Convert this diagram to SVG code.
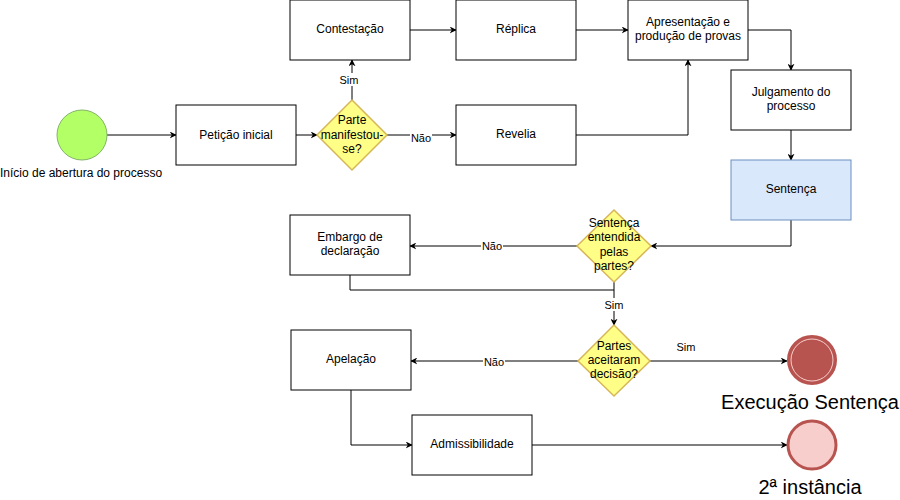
<svg xmlns="http://www.w3.org/2000/svg" width="900" height="500" viewBox="0 0 900 500">
<defs>
<marker id="arr" viewBox="0 0 10 10" refX="9" refY="5" markerWidth="7" markerHeight="7" orient="auto" markerUnits="userSpaceOnUse">
<path d="M0,0 L10,5 L0,10 L3,5 Z" fill="#000"/>
</marker>
<style>
text{font-family:"Liberation Sans",Arial,sans-serif;font-size:12px;fill:#000;text-anchor:middle}
.box{fill:#fff;stroke:#000;stroke-width:1}
.dia{fill:#ffff88;stroke:#d6b656;stroke-width:1.5}
.e{fill:none;stroke:#000;stroke-width:1;marker-end:url(#arr)}
.ln{fill:none;stroke:#000;stroke-width:1}
.lbl{font-size:11px}
.bg{fill:#fff}
.big{font-size:20px}
</style>
</defs>
<rect width="900" height="500" fill="#fff"/>
<g id="connectors">
<path class="e" d="M107,135 L176,135"/>
<path class="e" d="M296,135 L317,135"/>
<path class="e" d="M352,100 L352,60"/>
<path class="e" d="M387,135 L456,135"/>
<path class="e" d="M410,30 L456,30"/>
<path class="e" d="M576,30 L628,30"/>
<path class="e" d="M576,135 L688,135 L688,60"/>
<path class="e" d="M748,30 L791,30 L791,70"/>
<path class="e" d="M791,130 L791,160"/>
<path class="e" d="M791,220 L791,246 L651,246"/>
<path class="e" d="M577,246 L410,246"/>
<path class="ln" d="M350,275 L350,290 L614,290"/>
<path class="e" d="M614,280 L614,325"/>
<path class="e" d="M578,361 L411,361"/>
<path class="e" d="M650,361 L787,361"/>
<path class="e" d="M351,390 L351,445 L412,445"/>
<path class="e" d="M532,445 L787,445"/>
<rect class="bg" x="340" y="73" width="19" height="13"/>
<text class="lbl" x="349" y="84">Sim</text>
<rect class="bg" x="410" y="131" width="22" height="13"/>
<text class="lbl" x="421" y="142">Não</text>
<rect class="bg" x="481" y="239" width="22" height="13"/>
<text class="lbl" x="492" y="250">Não</text>
<rect class="bg" x="604" y="298" width="19" height="13"/>
<text class="lbl" x="614" y="309">Sim</text>
<rect class="bg" x="483" y="355" width="22" height="13"/>
<text class="lbl" x="494" y="366">Não</text>
<text class="lbl" x="686" y="351">Sim</text>
</g>
<g id="start">
<circle cx="82" cy="135" r="25" fill="#b3ff66" stroke="#82b366" stroke-width="1"/>
<text x="81" y="177">Início de abertura do processo</text>
</g>
<g id="peticao">
<rect class="box" x="176" y="105" width="120" height="60"/>
<text x="236" y="139">Petição inicial</text>
</g>
<g id="d1">
<path class="dia" d="M352,100 L387,135 L352,170 L317,135 Z"/>
<text x="352" y="124">Parte</text>
<text x="352" y="139">manifestou-</text>
<text x="352" y="153">se?</text>
</g>
<g id="contestacao">
<rect class="box" x="290" y="0" width="120" height="60"/>
<text x="350" y="33">Contestação</text>
</g>
<g id="replica">
<rect class="box" x="456" y="0" width="120" height="60"/>
<text x="516" y="33">Réplica</text>
</g>
<g id="revelia">
<rect class="box" x="456" y="105" width="120" height="60"/>
<text x="516" y="138">Revelia</text>
</g>
<g id="apresentacao">
<rect class="box" x="628" y="0" width="120" height="60"/>
<text x="688" y="26">Apresentação e</text>
<text x="688" y="40">produção de provas</text>
</g>
<g id="julgamento">
<rect class="box" x="731" y="70" width="120" height="60"/>
<text x="791" y="96">Julgamento do</text>
<text x="791" y="110">processo</text>
</g>
<g id="sentenca">
<rect x="731" y="160" width="120" height="60" fill="#dae8fc" stroke="#6c8ebf" stroke-width="1"/>
<text x="791" y="193">Sentença</text>
</g>
<g id="d2">
<path class="dia" d="M614,210 L651,246 L614,282 L577,246 Z"/>
<text x="614" y="227">Sentença</text>
<text x="614" y="241">entendida</text>
<text x="614" y="256">pelas</text>
<text x="614" y="270">partes?</text>
</g>
<g id="embargo">
<rect class="box" x="290" y="215" width="120" height="60"/>
<text x="350" y="241">Embargo de</text>
<text x="350" y="255">declaração</text>
</g>
<g id="d3">
<path class="dia" d="M614,325 L650,361 L614,396 L578,361 Z"/>
<text x="614" y="350">Partes</text>
<text x="614" y="364">aceitaram</text>
<text x="614" y="378">decisão?</text>
</g>
<g id="apelacao">
<rect class="box" x="291" y="330" width="120" height="60"/>
<text x="351" y="363">Apelação</text>
</g>
<g id="admissibilidade">
<rect class="box" x="412" y="415" width="120" height="60"/>
<text x="472" y="448">Admissibilidade</text>
</g>
<g id="execucao">
<circle cx="812" cy="360" r="24" fill="#b85450" stroke="#b85450" stroke-width="2"/>
<circle cx="812" cy="360" r="21" fill="none" stroke="#f8cecc" stroke-width="1"/>
<text class="big" x="810" y="409">Execução Sentença</text>
</g>
<g id="instancia2">
<circle cx="812" cy="445" r="24" fill="#f8cecc" stroke="#b85450" stroke-width="3"/>
<text class="big" x="810" y="494">2ª instância</text>
</g>
</svg>
